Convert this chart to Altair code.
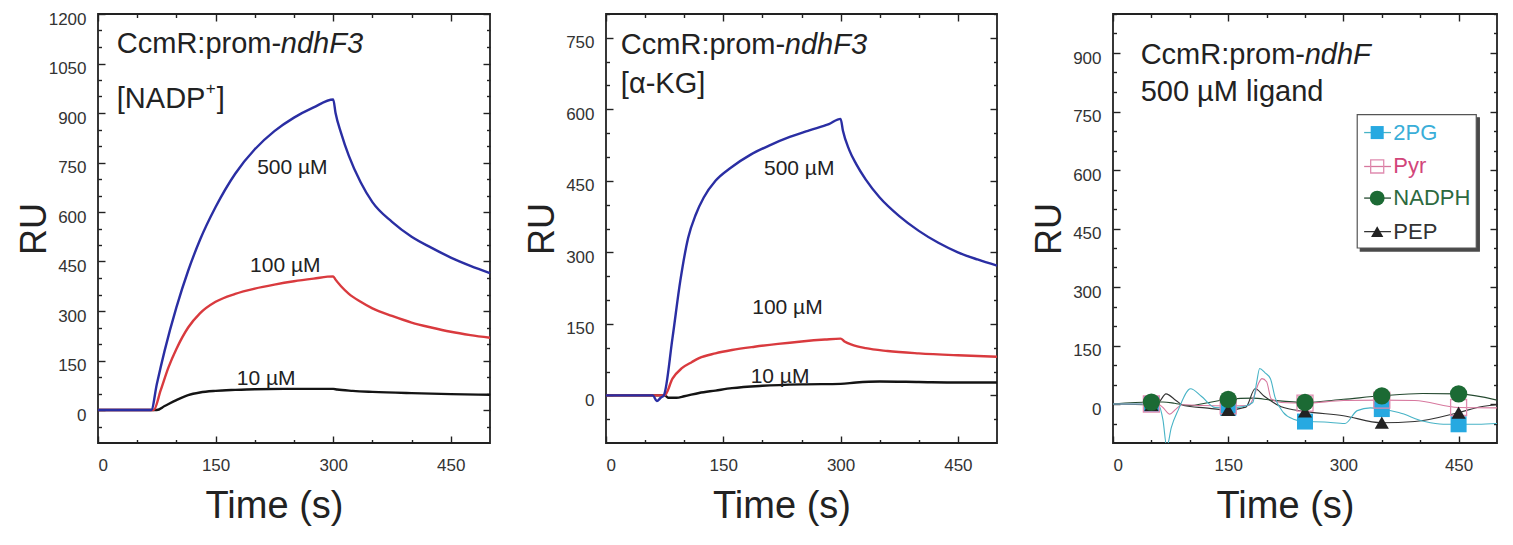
import altair as alt
import pandas as pd

FONT = "Liberation Sans"
TXT = "#222222"

# ---------------- panel sizes ----------------
W1, W2, W3 = 392, 391, 384
H = 429
SPACING = 116

X_DOMAIN = [0, 500]
X_LABELS = [0, 150, 300, 450]
X_MAJOR = [0, 150, 300, 450]
X_MINOR = [50, 100, 200, 250, 350, 400]

# ---------------- Panel A : NADP+ ----------------
A_DOMAIN = [-100, 1200]
A_LABELS = [0, 150, 300, 450, 600, 750, 900, 1050, 1200]
A_MINOR = [v for v in range(-50, 1201, 50) if v % 150 != 0]

a500_t = [0, 68, 75, 85, 100, 115, 130, 150, 175, 200, 225, 250, 275, 300, 303, 310, 320, 335, 350, 375, 400, 425, 450, 475, 500]
a500_v = [0, 0, 78, 180, 311, 422, 515, 615, 716, 790, 845, 886, 917, 941, 900, 840, 770, 690, 630, 570, 525, 492, 462, 437, 415]
a100_t = [0, 71, 80, 90, 100, 115, 130, 150, 175, 200, 225, 250, 275, 300, 303, 310, 320, 335, 350, 375, 400, 425, 450, 475, 500]
a100_v = [0, 0, 60, 130, 185, 250, 293, 328, 352, 368, 380, 390, 398, 405, 395, 375, 352, 328, 308, 285, 265, 250, 237, 227, 219]
a10_t = [0, 75, 85, 100, 115, 130, 150, 175, 200, 250, 300, 305, 325, 350, 400, 450, 500]
a10_v = [0, 0, 12, 30, 45, 53, 58, 61, 63, 64, 64, 62, 58, 55, 51, 48, 46]

# ---------------- Panel B : alpha-KG ----------------
B_DOMAIN = [-100, 800]
B_LABELS = [0, 150, 300, 450, 600, 750]
B_MINOR = [v for v in range(-50, 801, 50) if v % 150 != 0]

b500_t = [0, 60, 65, 70, 74, 85, 95, 105, 115, 125, 140, 160, 185, 210, 235, 260, 285, 300, 303, 311, 320, 332, 350, 375, 400, 425, 450, 475, 500]
b500_v = [0, 0, -12, -5, 0, 120, 240, 330, 380, 415, 450, 478, 505, 525, 542, 556, 569, 580, 555, 515, 485, 453, 415, 376, 345, 320, 300, 285, 272]
b100_t = [0, 75, 85, 97, 110, 119, 140, 161, 190, 220, 250, 280, 300, 305, 315, 332, 360, 400, 450, 500]
b100_v = [0, 0, 35, 57, 70, 78, 88, 95, 102, 108, 113, 117, 119, 113, 106, 99, 93, 88, 84, 81]
b10_t = [0, 75, 80, 90, 100, 119, 140, 161, 200, 250, 300, 320, 350, 400, 450, 500]
b10_v = [0, 0, -5, -5, -2, 5, 10, 15, 20, 23, 24, 27, 29, 28, 27, 27]

# ---------------- Panel C : 500 uM ligands ----------------
C_DOMAIN = [-100, 1000]
C_LABELS = [0, 150, 300, 450, 600, 750, 900]
C_MINOR = [v for v in range(-50, 1001, 50) if v % 150 != 0]

pg_t = [0, 50, 60, 65, 70, 76, 85, 101, 115, 133, 150, 165, 182, 187, 191, 198, 205, 211, 222, 235, 250, 275, 302, 318, 335, 350, 372, 406, 430, 450, 475, 500]
pg_v = [0, 0, -5, -40, -110, -60, -15, 39, 20, -9, -10, -8, 4, 55, 91, 80, 65, 17, -22, -39, -45, -46, -50, -17, -10, -13, -22, -45, -52, -52, -52, -50]
pyr_t = [0, 50, 60, 65, 74, 82, 90, 116, 150, 177, 184, 190, 194, 200, 206, 219, 250, 300, 350, 393, 450, 500]
pyr_v = [0, 0, -2, -9, -26, -13, -2, -4, -5, -4, 22, 55, 65, 57, 13, 4, 2, 9, 10, 9, -9, -10]
nad_t = [0, 50, 65, 80, 99, 125, 150, 182, 206, 250, 300, 350, 403, 450, 500]
nad_v = [0, 5, 5, 2, -4, 4, 12, 15, 10, 4, 12, 21, 27, 26, 10]
pep_t = [0, 50, 60, 69, 82, 92, 120, 150, 173, 185, 197, 219, 250, 300, 350, 393, 450, 479, 500]
pep_v = [0, -2, 5, 26, 9, -4, -10, -15, -8, 39, 20, -7, -19, -30, -48, -45, -22, -7, -2]

mk_t = [50, 150, 250, 350, 450]
mk_pg = [0, -10, -45, -13, -52]
mk_pyr = [0, -5, 2, 10, -9]
mk_nad = [5, 12, 4, 21, 26]
mk_pep = [-2, -15, -19, -48, -22]

leg_names = ["2PG", "Pyr", "NADPH", "PEP"]
leg_v = [696, 609, 528, 442]
leg_text_col = ["#3aaed8", "#d2457a", "#2d6a40", "#333333"]
leg_line_col = ["#47b3c6", "#d7789e", "#254a30", "#333333"]
leg_mark_col = ["#27a9e1", "#e08cb0", "#1c6a34", "#222222"]
leg_shape = ["square", "square", "circle", "triangle-up"]
leg_filled = [True, False, True, True]
leg_size = [170, 170, 220, 150]
leg_box_t = [318, 473]
leg_box_v = [400, 742]
leg_sym_t = 344
leg_seg_t = [327, 362]
leg_txt_t = 365

FRAME_COL = "#222222"


def xs():
    return alt.Scale(domain=X_DOMAIN, nice=False, zero=False)


def ys(dom):
    return alt.Scale(domain=dom, nice=False, zero=False)


def frame_axis(orient, values, offset, size):
    return alt.Axis(orient=orient, offset=offset, values=values, labels=False, domain=False,
                    grid=False, title=None, ticks=True, tickColor=FRAME_COL, tickWidth=1.4, tickSize=size)


def series_df(t, v):
    return pd.DataFrame({"t": t, "v": v})


def make_panel(W, ydom, ylabels, yminor, line_specs, texts, extra_layers=None, clip=False):
    layers = []
    first = True
    for (t, v, color, width) in line_specs:
        df = series_df(t, v)
        if first:
            xa = alt.Axis(orient="bottom", values=X_LABELS, format="d", ticks=False, tickSize=0, domain=False,
                          grid=False, labelFont=FONT, labelFontSize=17, labelColor="#333333", labelPadding=14,
                          title="Time (s)", titleFont=FONT, titleFontSize=38, titleFontWeight="normal",
                          titleColor=TXT, titleX=W / 2 - 20, titleY=74, titleBaseline="alphabetic")
            ya = alt.Axis(orient="left", values=ylabels, format="d", ticks=False, tickSize=0, domain=False,
                          grid=False, labelFont=FONT, labelFontSize=17, labelColor="#333333", labelPadding=12,
                          labelOffset=5, title="RU", titleFont=FONT, titleFontSize=36,
                          titleFontWeight="normal", titleColor=TXT, titleX=-53, titleY=H / 2,
                          titleBaseline="alphabetic", titleAngle=-90)
            first = False
        else:
            xa = None
            ya = None
        layers.append(
            alt.Chart(df).mark_line(color=color, strokeWidth=width, clip=clip, interpolate="monotone").encode(
                x=alt.X("t:Q", scale=xs(), axis=xa),
                y=alt.Y("v:Q", scale=ys(ydom), axis=ya),
            )
        )
    base_df = series_df(line_specs[0][0], line_specs[0][1])
    # inward frame ticks: an axis displaced to the opposite edge points into the plot
    for xo, yo, xv, yv, size in [("top", "right", X_MAJOR, ylabels, 7), ("bottom", "left", X_MAJOR, ylabels, 7),
                                 ("top", "right", X_MINOR, yminor, 3.5), ("bottom", "left", X_MINOR, yminor, 3.5)]:
        layers.append(
            alt.Chart(base_df).mark_point(opacity=0).encode(
                x=alt.X("t:Q", scale=xs(), axis=frame_axis(xo, xv, -H, size)),
                y=alt.Y("v:Q", scale=ys(ydom), axis=frame_axis(yo, yv, -W, size)),
            )
        )
    if extra_layers:
        layers.extend(extra_layers(ydom))
    for (t, v, txt, size, style, dx, dy, color) in texts:
        df = pd.DataFrame({"t": [t], "v": [v], "txt": [txt]})
        layers.append(
            alt.Chart(df).mark_text(align="left", baseline="alphabetic", font=FONT, fontSize=size,
                                    fontStyle=style, dx=dx, dy=dy, color=color).encode(
                x=alt.X("t:Q", scale=xs(), axis=None),
                y=alt.Y("v:Q", scale=ys(ydom), axis=None),
                text="txt:N",
            )
        )
    return alt.layer(*layers).resolve_axis(x="independent", y="independent").properties(width=W, height=H)


BLUE = "#2a2ea3"
RED = "#d93a3e"
BLACK = "#141414"

textsA = [
    (24, 1083, "CcmR:prom-", 29, "normal", 0, 0, TXT),
    (24, 1083, "ndhF3", 29, "italic", 164, 0, TXT),
    (24, 914, "[NADP", 29, "normal", 0, 0, TXT),
    (24, 914, "+", 17, "normal", 89, -14, TXT),
    (24, 914, "]", 29, "normal", 100, 0, TXT),
    (203, 715, "500 µM", 21, "normal", 0, 0, TXT),
    (194, 418, "100 µM", 21, "normal", 0, 0, TXT),
    (177, 76, "10 µM", 21, "normal", 0, 0, TXT),
]
panelA = make_panel(W1, A_DOMAIN, A_LABELS, A_MINOR,
                    [(a10_t, a10_v, BLACK, 2.4), (a100_t, a100_v, RED, 2.4), (a500_t, a500_v, BLUE, 2.4)],
                    textsA)

textsB = [
    (19, 717, "CcmR:prom-", 29, "normal", 0, 0, TXT),
    (19, 717, "ndhF3", 29, "italic", 164, 0, TXT),
    (19, 634, "[α-KG]", 29, "normal", 0, 0, TXT),
    (202, 463, "500 µM", 21, "normal", 0, 0, TXT),
    (187, 171, "100 µM", 21, "normal", 0, 0, TXT),
    (185, 25, "10 µM", 21, "normal", 0, 0, TXT),
]
panelB = make_panel(W2, B_DOMAIN, B_LABELS, B_MINOR,
                    [(b10_t, b10_v, BLACK, 2.4), (b100_t, b100_v, RED, 2.4), (b500_t, b500_v, BLUE, 2.4)],
                    textsB)


def c_extra(ydom):
    out = []
    mk_specs = [
        (mk_pg, "square", True, "#27a9e1", 256),
        (mk_pyr, "square", False, "#e08cb0", 256),
        (mk_pep, "triangle-up", True, "#222222", 200),
        (mk_nad, "circle", True, "#1c6a34", 300),
    ]
    for vals, shape, filled, col, size in mk_specs:
        df = pd.DataFrame({"t": mk_t, "v": vals})
        if filled:
            m = alt.Chart(df).mark_point(shape=shape, filled=True, size=size, color=col, opacity=1)
        else:
            m = alt.Chart(df).mark_point(shape=shape, filled=False, size=size, color=col, strokeWidth=1.3, opacity=1)
        out.append(m.encode(x=alt.X("t:Q", scale=xs(), axis=None), y=alt.Y("v:Q", scale=ys(ydom), axis=None)))
    shadow = pd.DataFrame({"t": [leg_box_t[0] + 4], "t2": [leg_box_t[1] + 4],
                           "v": [leg_box_v[0] - 8], "v2": [leg_box_v[1] - 8]})
    box = pd.DataFrame({"t": [leg_box_t[0]], "t2": [leg_box_t[1]], "v": [leg_box_v[0]], "v2": [leg_box_v[1]]})
    for df, fill, stroke in [(shadow, "#4a4a4a", "#4a4a4a"), (box, "white", "#555555")]:
        out.append(alt.Chart(df).mark_rect(fill=fill, stroke=stroke, strokeWidth=1.2).encode(
            x=alt.X("t:Q", scale=xs(), axis=None), x2="t2:Q",
            y=alt.Y("v:Q", scale=ys(ydom), axis=None), y2="v2:Q"))
    for i, name in enumerate(leg_names):
        seg = pd.DataFrame({"t": [leg_seg_t[0]], "t2": [leg_seg_t[1]], "v": [leg_v[i]]})
        out.append(alt.Chart(seg).mark_rule(color=leg_line_col[i], strokeWidth=1.3).encode(
            x=alt.X("t:Q", scale=xs(), axis=None), x2="t2:Q",
            y=alt.Y("v:Q", scale=ys(ydom), axis=None)))
        sym = pd.DataFrame({"t": [leg_sym_t], "v": [leg_v[i]]})
        if leg_filled[i]:
            m = alt.Chart(sym).mark_point(shape=leg_shape[i], filled=True, size=leg_size[i],
                                          color=leg_mark_col[i], opacity=1)
        else:
            m = alt.Chart(sym).mark_point(shape=leg_shape[i], filled=False, size=leg_size[i],
                                          color=leg_mark_col[i], strokeWidth=1.3, opacity=1)
        out.append(m.encode(x=alt.X("t:Q", scale=xs(), axis=None), y=alt.Y("v:Q", scale=ys(ydom), axis=None)))
        lab = pd.DataFrame({"t": [leg_txt_t], "v": [leg_v[i]], "txt": [name]})
        out.append(alt.Chart(lab).mark_text(align="left", baseline="middle", font=FONT, fontSize=22,
                                            color=leg_text_col[i]).encode(
            x=alt.X("t:Q", scale=xs(), axis=None), y=alt.Y("v:Q", scale=ys(ydom), axis=None), text="txt:N"))
    return out


textsC = [
    (36, 871, "CcmR:prom-", 29, "normal", 0, 0, TXT),
    (36, 871, "ndhF", 29, "italic", 164, 0, TXT),
    (36, 776, "500 µM ligand", 29, "normal", 0, 0, TXT),
]
panelC = make_panel(W3, C_DOMAIN, C_LABELS, C_MINOR,
                    [(pep_t, pep_v, "#333333", 1.1), (nad_t, nad_v, "#254a30", 1.1),
                     (pyr_t, pyr_v, "#d7789e", 1.1), (pg_t, pg_v, "#47b3c6", 1.1)],
                    textsC, extra_layers=c_extra, clip=True)

chart = alt.hconcat(panelA, panelB, panelC, spacing=SPACING, bounds="flush").properties(
    padding={"left": 7, "top": 1, "right": 2, "bottom": 0}, background="white"
).configure_view(stroke=FRAME_COL, strokeWidth=1.8)

chart.save("out.html", embed_options={"renderer": "svg", "actions": False})
